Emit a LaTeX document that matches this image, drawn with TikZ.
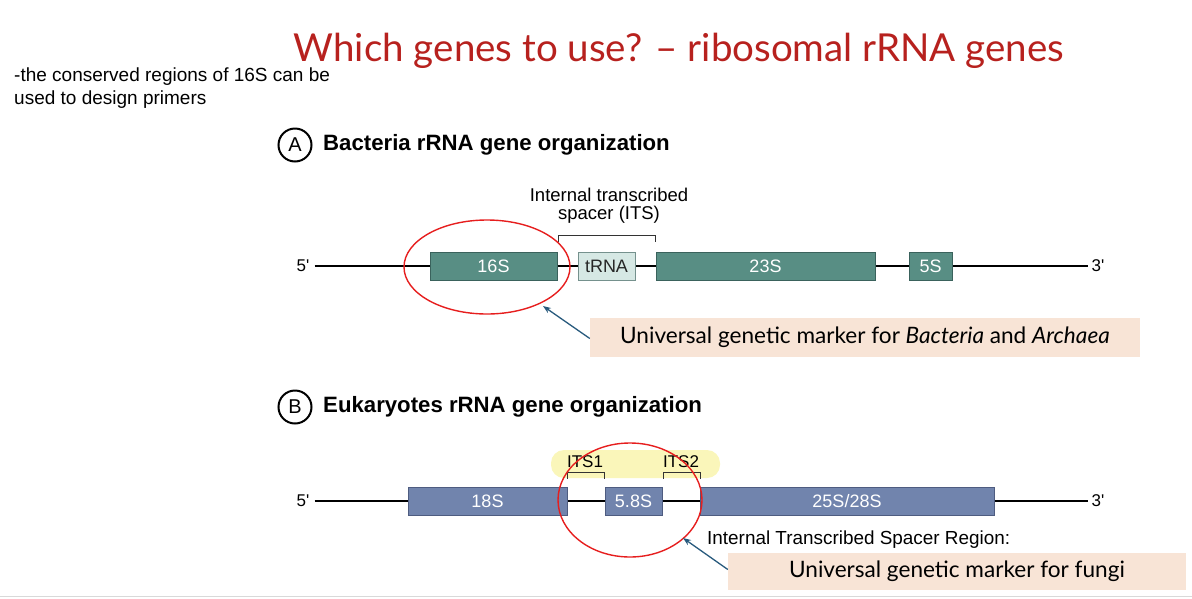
\documentclass[tikz,border=0pt]{standalone}
\usepackage{fontspec}
\setmainfont{Liberation Sans}
\newfontfamily\slidefont{Lato}
\usetikzlibrary{arrows.meta}
\definecolor{titlered}{RGB}{183,33,30}
\definecolor{tealgene}{RGB}{88,142,132}
\definecolor{tealedge}{RGB}{58,98,92}
\definecolor{trnafill}{RGB}{214,232,228}
\definecolor{slategene}{RGB}{113,132,173}
\definecolor{slateedge}{RGB}{78,92,128}
\definecolor{markerpink}{RGB}{248,228,214}
\definecolor{itsyellow}{RGB}{250,246,186}
\definecolor{pointblue}{RGB}{40,90,125}
\definecolor{circlered}{RGB}{230,30,30}
\tikzset{
  gene/.style={draw=tealedge, fill=tealgene, text=white, minimum height=28pt,
    inner sep=0pt, font=\fontsize{18}{18}\selectfont},
  eugene/.style={gene, draw=slateedge, fill=slategene},
  markerbox/.style={fill=markerpink, minimum height=39pt, inner sep=0pt,
    font=\slidefont\fontsize{22.6}{22.6}\selectfont},
  label/.style={inner sep=0pt, font=\fontsize{17}{17}\selectfont},
  heading/.style={anchor=west, inner sep=0pt, font=\bfseries\fontsize{22.2}{22.2}\selectfont},
  letter/.style={draw, circle, line width=2pt, minimum size=33pt, inner sep=0pt,
    font=\fontsize{20}{20}\selectfont},
  pointer/.style={pointblue, line width=1.3pt, -{Stealth[length=8pt,width=6pt]}},
  hoop/.style={circlered, line width=1.4pt},
}
\begin{document}
\begin{tikzpicture}[x=1pt,y=-1pt]
    \useasboundingbox (0,0) rectangle (1192,598);
    \draw[black!15, line width=1pt] (0,596.5) -- (1192,596.5);
    % title and note
    \node[inner sep=0pt, text=titlered, font=\slidefont\fontsize{38.5}{38.5}\selectfont] (title) at (679,51) {Which genes to use? – ribosomal rRNA genes};
    \node[anchor=west, inner sep=0pt, font=\fontsize{19}{19}\selectfont] (note1) at (14,77) {-the conserved regions of 16S can be};
    \node[anchor=west, inner sep=0pt, font=\fontsize{19}{19}\selectfont] (note2) at (14,100) {used to design primers};
    % A: bacteria
    \node[letter] (a) at (295,145) {A};
    \node[heading] (atitle) at (323,145) {Bacteria rRNA gene organization};
    \node[label, font=\fontsize{18.5}{18.5}\selectfont] (its) at (609,207) {\begin{tabular}{@{}c@{}}Internal transcribed\\[-1pt] spacer (ITS)\end{tabular}};
    \draw[black!80, line width=0.7pt] (558,242) -- (558,235) -- (655,235) -- (655,242);
    \node[label] (a5) at (303,266) {5\textquotesingle};
    \node[label] (a3) at (1098,266) {3\textquotesingle};
    \draw[line width=1.5pt] (a5.east) ++(5,0) -- ([xshift=-3pt]a3.west);
    \node[gene, minimum width=127pt] (s16) at (493.5,266) {16S};
    \node[gene, fill=trnafill, draw=tealedge!70, text=black!85, minimum width=57pt] (trna) at (606.5,266) {tRNA};
    \node[gene, minimum width=219pt] (s23) at (765.5,266) {23S};
    \node[gene, minimum width=43pt] (s5) at (930.5,266) {5S};
    \draw[hoop] (487,267) ellipse (83 and 47);
    \coordinate (hoopa) at (543,306);
    \node[markerbox, minimum width=550pt] (marka) at (865,337.5) {Universal genetic marker for \textit{Bacteria} and \textit{Archaea}};
    \draw[pointer] (marka.west) ++(0,1) -- (hoopa);
    % B: eukaryotes
    \node[letter] (b) at (295,407) {B};
    \node[heading] (btitle) at (323,407) {Eukaryotes rRNA gene organization};
    \fill[itsyellow, rounded corners=13pt] (551,450) rectangle (720,478);
    \node[label] (its1) at (585,462) {ITS1};
    \node[label] (its2) at (681,462) {ITS2};
    \draw[black!80, line width=0.7pt] (567,479) -- (567,472) -- (604,472) -- (604,479);
    \draw[black!80, line width=0.7pt] (663,479) -- (663,472) -- (700,472) -- (700,479);
    \node[label] (b5) at (303,501) {5\textquotesingle};
    \node[label] (b3) at (1098,501) {3\textquotesingle};
    \draw[line width=1.5pt] (b5.east) ++(5,0) -- ([xshift=-3pt]b3.west);
    \node[eugene, minimum width=159pt] (s18) at (487.5,501.5) {18S};
    \node[eugene, minimum width=57pt] (s58) at (633.5,501.5) {5.8S};
    \node[eugene, minimum width=294pt] (s28) at (847,501.5) {25S/28S};
    \draw[hoop] (630,500) ellipse (72 and 57);
    \coordinate (hoopb) at (683,538);
    \node[anchor=west, inner sep=0pt, font=\fontsize{18.9}{18.9}\selectfont] (itsreg) at (707,540) {Internal Transcribed Spacer Region:};
    \node[markerbox, minimum width=458pt, minimum height=37pt] (markb) at (957,571.5) {Universal genetic marker for fungi};
    \draw[pointer] (markb.west) ++(0,-2) -- (hoopb);
\end{tikzpicture}
\end{document}
